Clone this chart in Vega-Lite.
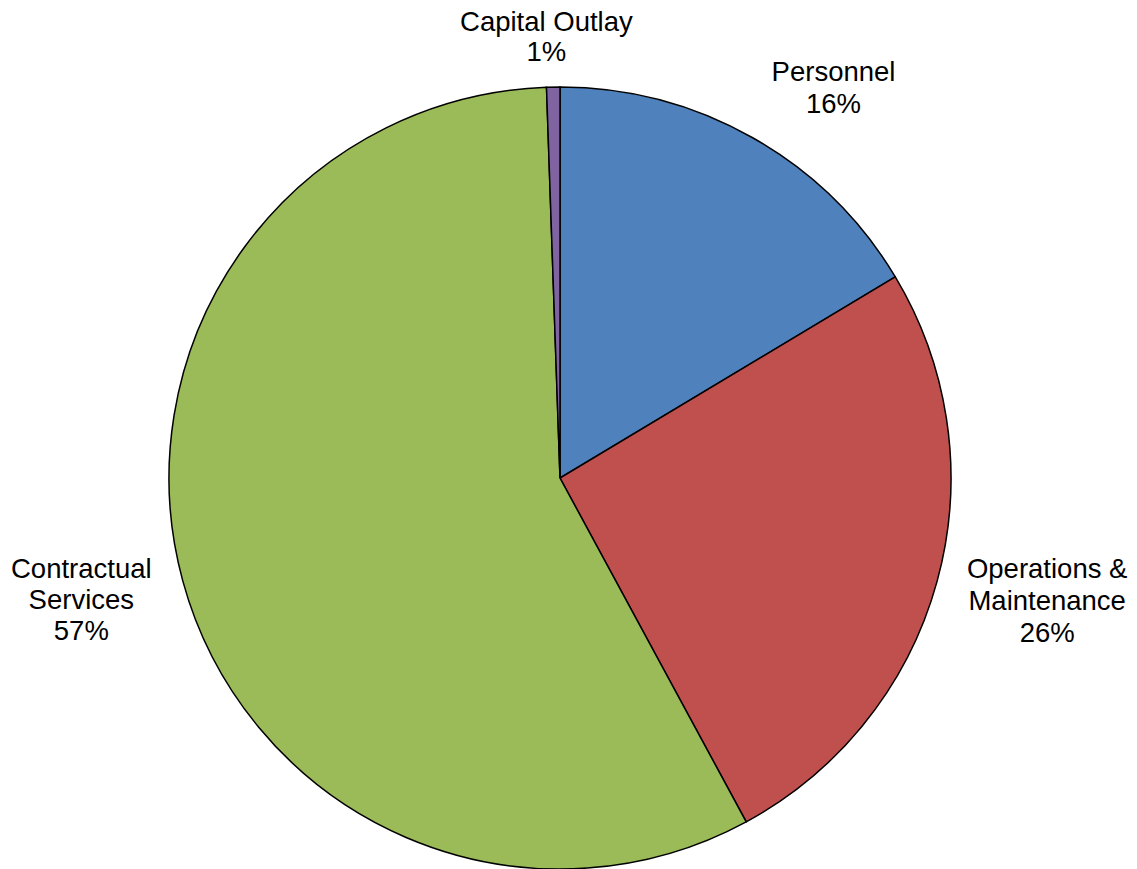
{
  "$schema": "https://vega.github.io/schema/vega-lite/v6.json",
  "autosize": {"type": "none"},
  "width": 1120,
  "height": 782,
  "padding": {"left": 0, "top": 87, "right": 17, "bottom": 0},
  "background": "white",
  "config": {"view": {"stroke": null}},
  "data": {
    "values": [
      {"idx": 1, "category": "Personnel", "value": 16.4, "label": "Personnel\n16%"},
      {"idx": 2, "category": "Operations & Maintenance", "value": 25.7, "label": "Operations &\nMaintenance\n26%"},
      {"idx": 3, "category": "Contractual Services", "value": 57.35, "label": "Contractual\nServices\n57%"},
      {"idx": 4, "category": "Capital Outlay", "value": 0.55, "label": "Capital Outlay\n1%"}
    ]
  },
  "encoding": {
    "theta": {"field": "value", "type": "quantitative", "stack": true},
    "order": {"field": "idx", "type": "quantitative", "sort": "ascending"}
  },
  "layer": [
    {
      "mark": {"type": "arc", "outerRadius": 391, "stroke": "black", "strokeWidth": 1.5},
      "encoding": {
        "color": {
          "field": "category",
          "type": "nominal",
          "scale": {
            "domain": ["Personnel", "Operations & Maintenance", "Contractual Services", "Capital Outlay"],
            "range": ["#4F81BD", "#C0504D", "#9BBB59", "#8064A2"]
          },
          "legend": null
        }
      }
    },
    {
      "mark": {"type": "text", "radius": 476, "dx": 39, "dy": 9, "lineBreak": "\n", "font": "Liberation Sans", "fontSize": 27.5, "lineHeight": 32, "align": "center", "baseline": "middle", "color": "black"},
      "encoding": {"text": {"condition": {"test": "datum.idx == 1", "field": "label"}, "value": ""}}
    },
    {
      "mark": {"type": "text", "radius": 503, "dx": 2, "dy": -41, "lineBreak": "\n", "font": "Liberation Sans", "fontSize": 27.5, "lineHeight": 32, "align": "center", "baseline": "middle", "color": "black"},
      "encoding": {"text": {"condition": {"test": "datum.idx == 2", "field": "label"}, "value": ""}}
    },
    {
      "mark": {"type": "text", "radius": 494, "dx": -2, "dy": -38, "lineBreak": "\n", "font": "Liberation Sans", "fontSize": 27.5, "lineHeight": 31, "align": "center", "baseline": "middle", "color": "black"},
      "encoding": {"text": {"condition": {"test": "datum.idx == 3", "field": "label"}, "value": ""}}
    },
    {
      "mark": {"type": "text", "radius": 441, "dx": -6, "dy": -14, "lineBreak": "\n", "font": "Liberation Sans", "fontSize": 27.5, "lineHeight": 30, "align": "center", "baseline": "middle", "color": "black"},
      "encoding": {"text": {"condition": {"test": "datum.idx == 4", "field": "label"}, "value": ""}}
    }
  ]
}
